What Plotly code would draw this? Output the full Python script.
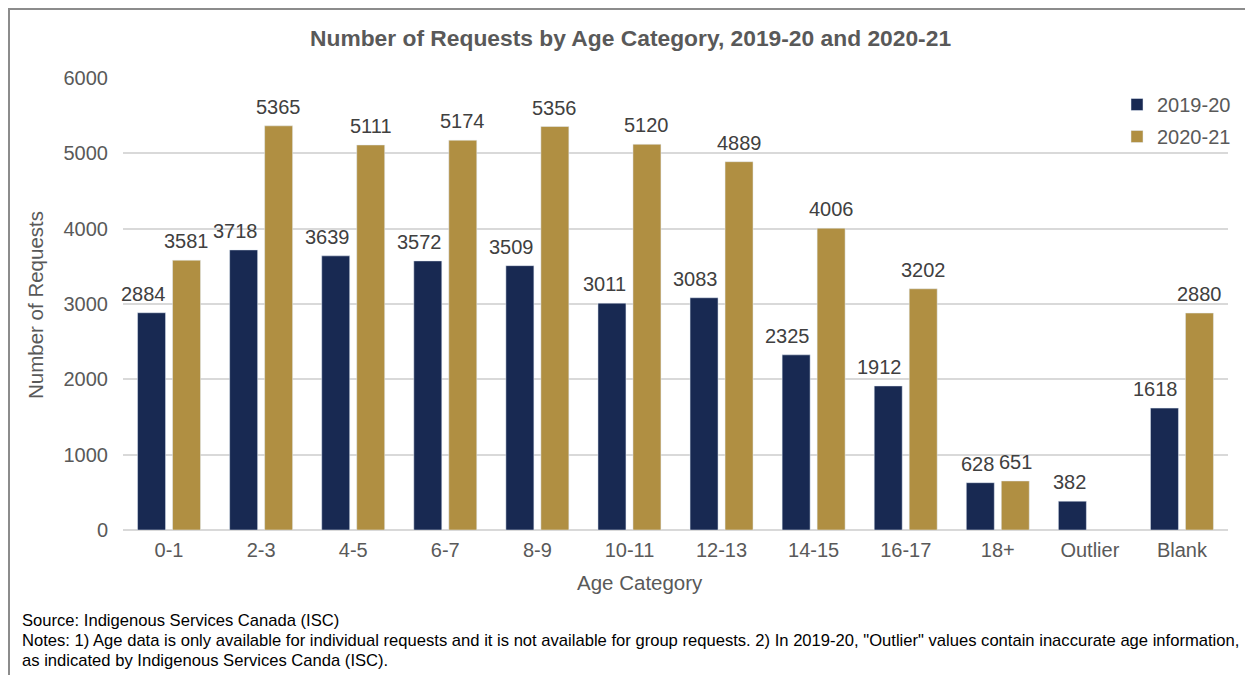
import plotly.graph_objects as go

categories = ["0-1", "2-3", "4-5", "6-7", "8-9", "10-11", "12-13", "14-15", "16-17", "18+", "Outlier", "Blank"]
values_2019_20 = [2884, 3718, 3639, 3572, 3509, 3011, 3083, 2325, 1912, 628, 382, 1618]
values_2020_21 = [3581, 5365, 5111, 5174, 5356, 5120, 4889, 4006, 3202, 651, None, 2880]
y_ticks = [0, 1000, 2000, 3000, 4000, 5000, 6000]

OFF = 8  # page body margin
W, H = 1253 - OFF, 675 - OFF
L, R, T, B = 123 - OFF, 1228 - OFF, 78 - OFF, 530 - OFF  # plot area in figure pixels
BARGAP, GROUPGAP = 0.24, 0.2


def px(x):
    return (x - OFF - L) / (R - L)


def py(y):
    return (B - (y - OFF)) / (B - T)


FONT = "Liberation Sans, Arial, sans-serif"
GRAY = "#595959"
FS = 20

fig = go.Figure()
fig.add_trace(go.Bar(x=categories, y=values_2019_20, name="2019-20", marker_color="#182952",
                     legendgroup="a"))
fig.add_trace(go.Bar(x=categories, y=values_2020_21, name="2020-21", marker_color="#B08F42",
                     legendgroup="b"))

fig.update_layout(
    width=W, height=H,
    margin=dict(l=L, r=W - R, t=T, b=H - B, autoexpand=False),
    paper_bgcolor="white", plot_bgcolor="white",
    barmode="group", bargap=BARGAP, bargroupgap=GROUPGAP,
    font=dict(family=FONT, color=GRAY, size=FS),
    showlegend=True,
    legend=dict(x=px(1236), xanchor="right", y=py(85), yanchor="top",
                font=dict(size=FS, color=GRAY), tracegroupgap=3,
                bgcolor="rgba(0,0,0,0)", itemwidth=30),
    xaxis=dict(type="category", range=[-0.5, len(categories) - 0.5], showgrid=False,
               showline=False, tickfont=dict(size=FS, color=GRAY), ticks="", ticklabelstandoff=6),
    yaxis=dict(range=[0, 6000], tickvals=y_ticks, showgrid=True, gridcolor="#D9D9D9",
               gridwidth=1.5, zeroline=True, zerolinecolor="#D9D9D9", zerolinewidth=1.5,
               tickfont=dict(size=FS, color=GRAY), ticks="", ticklabelstandoff=14),
)

# data labels: placed on the data (category, value), shifted to each bar's slot
slot = (R - L) / len(categories) * (1 - BARGAP) / 2
barw = slot * (1 - GROUPGAP)
annotations = []
for c, v in zip(categories, values_2019_20):
    # 2019-20 labels are right-aligned with the bar's right edge
    annotations.append(dict(x=c, y=v, xref="x", yref="y", text=str(v), showarrow=False,
                            xanchor="right", yanchor="bottom", borderpad=0,
                            xshift=-slot / 2 + barw / 2 + 1, yshift=7,
                            font=dict(size=FS, color="#404040")))
for c, v in zip(categories, values_2020_21):
    if v is None:
        continue
    annotations.append(dict(x=c, y=v, xref="x", yref="y", text=str(v), showarrow=False,
                            xanchor="center", yanchor="bottom", borderpad=0,
                            xshift=slot / 2, yshift=7,
                            font=dict(size=FS, color="#404040")))

texts = [
    dict(text="<b>Number of Requests by Age Category, 2019-20 and 2020-21</b>",
         x=px(630), y=py(38), font=dict(size=22.8, color=GRAY)),
    dict(text="Age Category", x=px(640), y=py(582), font=dict(size=20.5, color=GRAY)),
    dict(text="Number of Requests", x=px(35), y=py(305), textangle=-90, font=dict(size=20.5, color=GRAY)),
    dict(text="Source: Indigenous Services Canada (ISC)", x=px(20), y=py(620), xanchor="left",
         font=dict(size=16.6, color="#000000")),
    dict(text="Notes: 1) Age data is only available for individual requests and it is not available for group requests. 2) In 2019-20, \"Outlier\" values contain inaccurate age information,",
         x=px(20), y=py(640), xanchor="left", font=dict(size=16.6, color="#000000")),
    dict(text="as indicated by Indigenous Services Canda (ISC).", x=px(20), y=py(660), xanchor="left",
         font=dict(size=16.6, color="#000000")),
]
for a in texts:
    a.update(xref="paper", yref="paper", showarrow=False)
    a.setdefault("xanchor", "center")
    a.setdefault("yanchor", "middle")
fig.update_layout(annotations=annotations + texts)

fig.add_shape(type="rect", xref="paper", yref="paper",
              x0=px(OFF + 1), x1=px(OFF + W - 2), y0=py(720), y1=py(OFF + 1),
              line=dict(color="#8C8C8C", width=2), fillcolor="rgba(0,0,0,0)", layer="below")

fig.write_html("out.html")
